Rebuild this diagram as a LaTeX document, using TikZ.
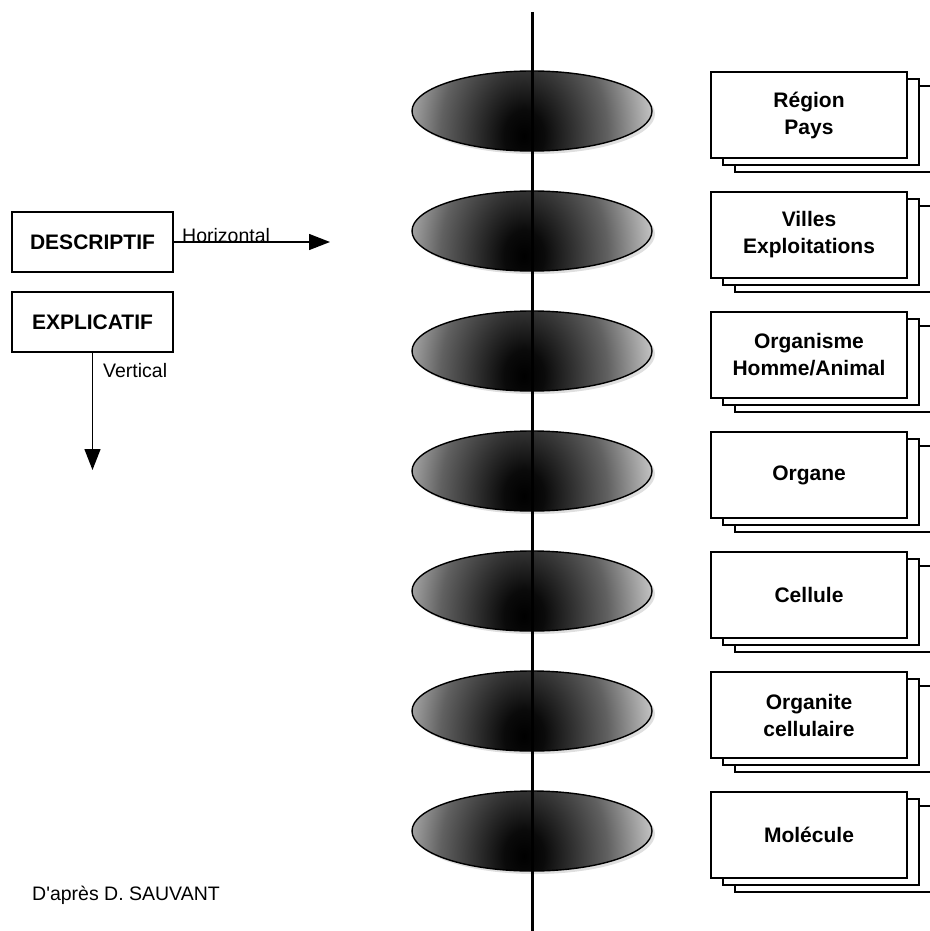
\documentclass[tikz,border=0pt]{standalone}
\usepackage{fontspec}
\setmainfont{Liberation Sans}
\usetikzlibrary{arrows.meta, shapes.geometric, shadows}

\pgfdeclareradialshading{ovalshade}{\pgfpointorigin}{color(0bp)=(black); color(3bp)=(black!96); color(7.5bp)=(black!80); color(12.5bp)=(black!62); color(17.5bp)=(black!34); color(20bp)=(black!20); color(25bp)=(white); color(50bp)=(white)}

\tikzset{
  oval/.style={ellipse, draw, line width=1.4pt, minimum width=240pt, minimum height=80pt, inner sep=0pt,
    drop shadow={opacity=0.25, shadow xshift=3pt, shadow yshift=-3pt},
    path picture={\shade[shading=ovalshade] ([xshift=-175pt,yshift=-242pt]path picture bounding box.center) rectangle ([xshift=159pt,yshift=192pt]path picture bounding box.center);}},
  niveau/.style={draw, fill=white, line width=1.6pt, minimum width=196pt, minimum height=86pt, align=center,
    font=\fontsize{21}{27}\selectfont\bfseries, double copy shadow={shadow xshift=12pt, shadow yshift=-7pt}},
  approche/.style={draw, line width=1.4pt, minimum width=161pt, minimum height=60pt, font=\fontsize{21}{25}\selectfont\bfseries},
  fleche/.style={line width=1.4pt, -{Triangle[length=21pt,width=16pt]}},
  petit/.style={font=\fontsize{19.5}{23}\selectfont, inner sep=0pt}
}

\begin{document}
\begin{tikzpicture}[x=1pt, y=-1pt]
\useasboundingbox (0,0) rectangle (929,931);
\foreach \t [count=\i] in {{Région\\Pays}, {Villes\\Exploitations}, {Organisme\\Homme/Animal}, Organe, Cellule, {Organite\\cellulaire}, Molécule}{
  \node[oval] (oval\i) at (532, -9+120*\i) {};
  \node[niveau] (niv\i) at (809, -5+120*\i) {\t};
}
\coordinate (axehaut) at (532,12);
\coordinate (axebas) at (532,931);
\draw[line width=3pt] (axehaut) -- (axebas);

\node[approche] (desc) at (92.5,242) {DESCRIPTIF};
\node[approche] (expl) at (92.5,322) {EXPLICATIF};
\coordinate (hfin) at (330,242);
\coordinate (vfin) at (92.5,470);
\draw[fleche] (desc.east) -- (hfin);
\draw[fleche] (expl.south) -- (vfin);
\node[petit, anchor=base west] (horiz) at (182,242) {Horizontal};
\node[petit, anchor=west] (vert) at (103,371) {Vertical};
\node[petit, anchor=west] (source) at (32,895) {D\textquotesingle après D. SAUVANT};
\end{tikzpicture}
\end{document}
